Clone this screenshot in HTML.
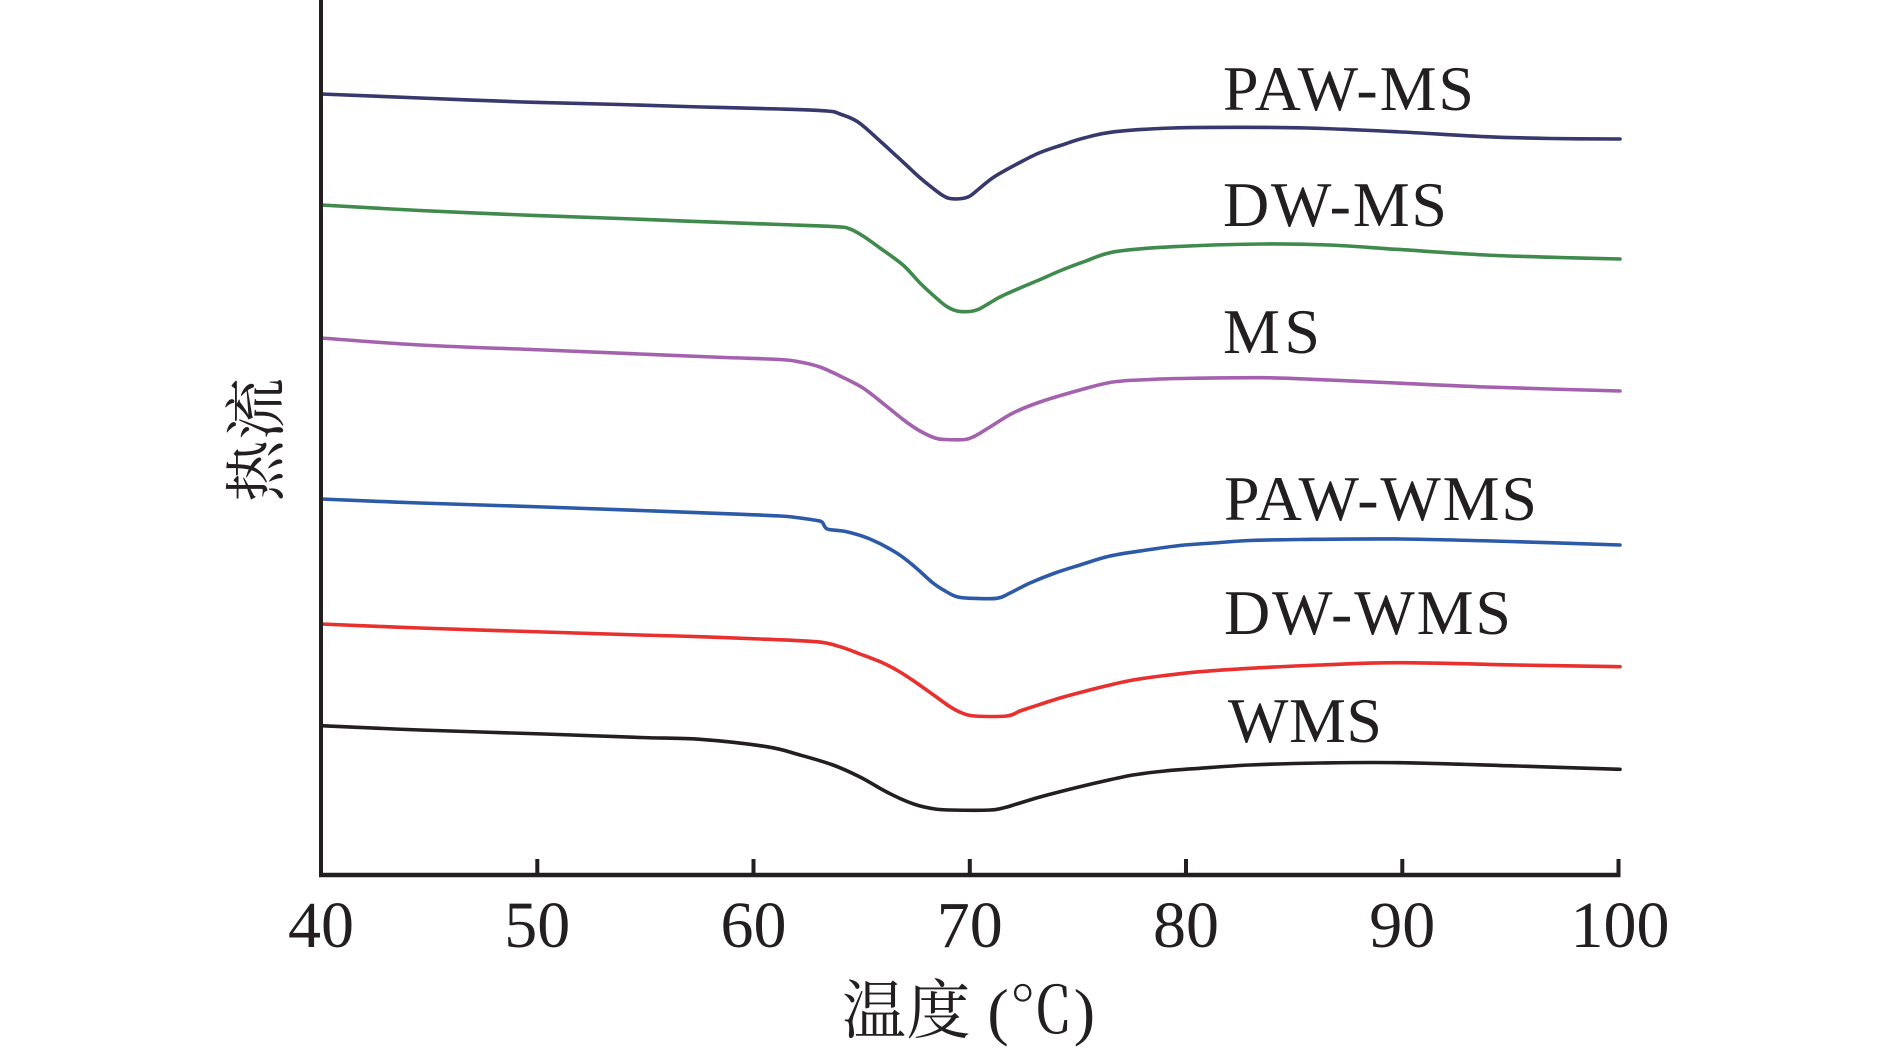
<!DOCTYPE html>
<html>
<head>
<meta charset="utf-8">
<style>
html,body{margin:0;padding:0;background:#fff;}
svg{display:block;}
.lbl{font-family:"Liberation Serif","Noto Serif CJK SC",serif;font-size:64px;fill:#231f20;}
.tick{font-family:"Liberation Serif",serif;font-size:66px;fill:#231f20;}
.cjk{font-family:"Liberation Serif","Noto Serif CJK SC",serif;fill:#231f20;}
.c{fill:none;stroke-width:3.6;stroke-linejoin:round;stroke-linecap:round;}
</style>
</head>
<body>
<svg id="chart" width="1890" height="1050" viewBox="0 0 1890 1050" xmlns="http://www.w3.org/2000/svg">
<rect width="1890" height="1050" fill="#fff"/>

<!-- curves -->
<polyline class="c" stroke="#37386b" points="321,94 420,98 523,102 620,104.5 702,107 780,109 827,111 840,114 858,122 880,141 903,162 918,176 930,186 942,195 950,198.5 962,198.5 970,196 980,188 994,177 1017,164 1039,153 1062,145 1084,138 1115,131.7 1173,128 1240,127.3 1307,128 1396,131.7 1486,136.7 1550,138.5 1620,139"/>

<polyline class="c" stroke="#3f8a4c" points="321,205 420,210.5 523,215 620,218.5 702,221.7 780,224.5 836,226.7 850,229 863,236 880,248 903,265 920,283 934,296 946,306 957,311 970,311.5 978,309.5 988,304 1000,297 1020,288 1039,280 1062,270 1084,261.7 1115,251.7 1173,246.7 1262,244 1329,245 1396,249.3 1486,255 1560,257.5 1620,259"/>

<polyline class="c" stroke="#a462ae" points="321,338 420,345 544,350 640,354 725,357.5 780,359.5 800,362 820,367 840,376 863,388 885,405 905,421 920,431 935,438 945,439.5 965,439.5 975,436 990,427 1013,413 1040,402 1080,390 1113,382 1150,379.5 1180,378.5 1262,377.7 1329,380 1396,383 1486,387 1620,391"/>

<polyline class="c" stroke="#2d5aa7" points="321,499 420,503 544,507 640,510.5 725,513.7 780,516 800,518 817,520.5 822,522 825,527 829,529.5 846.7,531.7 870,539 896.7,553 915,567 933,583 946,591.5 956.7,596.7 970,598.3 996.7,598.3 1010,593 1030,583 1055,573 1080,565 1110,556 1146.7,550 1180,545.5 1213,543 1250,540.5 1300,539.5 1400,539 1517,541.7 1620,545"/>

<polyline class="c" stroke="#e8302e" points="321,624 420,628 544,632 640,635 700,636.7 760,639 816.7,641.7 840,646.7 860,654 883,663 900,672 916.7,683 935,696 950,706.7 962,713 975,716 1006.7,716 1020,711 1033,706.7 1060,698 1083,691.7 1110,685 1133,680 1165,675.5 1200,671.7 1250,668.3 1320,665 1400,662.7 1517,665 1620,666.7"/>

<polyline class="c" stroke="#231f20" points="321,725.7 420,730 544,734 640,737.5 700,739.3 766.7,746.7 800,755 833,765 860,777 883,790 900,798.5 916.7,805 935,809 950,810 990,810 1005,807.5 1016.7,804 1040,797 1066.7,790 1100,782 1133,775 1165,771 1200,768.3 1250,765 1320,763 1400,762.7 1517,766 1620,769.3"/>

<!-- axes -->
<line x1="321" y1="0" x2="321" y2="877" stroke="#231f20" stroke-width="4"/>
<line x1="319" y1="875" x2="1620.5" y2="875" stroke="#231f20" stroke-width="4.5"/>
<g stroke="#231f20" stroke-width="4">
<line x1="537.3" y1="859" x2="537.3" y2="875"/>
<line x1="753.5" y1="859" x2="753.5" y2="875"/>
<line x1="969.8" y1="859" x2="969.8" y2="875"/>
<line x1="1186" y1="859" x2="1186" y2="875"/>
<line x1="1402.3" y1="859" x2="1402.3" y2="875"/>
<line x1="1618.5" y1="859" x2="1618.5" y2="877"/>
</g>

<!-- tick labels -->
<g class="tick" text-anchor="middle">
<text x="321" y="947">40</text>
<text x="537.3" y="947">50</text>
<text x="753.5" y="947">60</text>
<text x="969.8" y="947">70</text>
<text x="1186" y="947">80</text>
<text x="1402.3" y="947">90</text>
<text x="1620" y="947">100</text>
</g>

<!-- series labels -->
<text class="lbl" x="1223" y="110" textLength="251">PAW-MS</text>
<text class="lbl" x="1223" y="226" textLength="224">DW-MS</text>
<text class="lbl" x="1223" y="353" textLength="97">MS</text>
<text class="lbl" x="1224" y="520" textLength="313">PAW-WMS</text>
<text class="lbl" x="1224" y="634" textLength="287">DW-WMS</text>
<text class="lbl" x="1228" y="742" textLength="154">WMS</text>

<!-- axis titles -->
<text class="cjk" x="842" y="1033" font-size="64" textLength="253">温度 (℃)</text>
<text class="cjk" font-size="62" text-anchor="middle" dominant-baseline="central" transform="translate(258,440) rotate(-90)">热流</text>
</svg>
<script>
(function(){
  var ns="http://www.w3.org/2000/svg";
  var pls=document.querySelectorAll("#chart polyline");
  for(var i=0;i<pls.length;i++){
    var pl=pls[i];
    var raw=pl.getAttribute("points").trim().split(/\s+/).map(function(s){var a=s.split(",");return [parseFloat(a[0]),parseFloat(a[1])];});
    var d="M"+raw[0][0]+","+raw[0][1];
    for(var j=0;j<raw.length-1;j++){
      var p0=raw[j>0?j-1:0],p1=raw[j],p2=raw[j+1],p3=raw[j+2<raw.length?j+2:j+1];
      var t=1/6;
      var c1x=p1[0]+(p2[0]-p0[0])*t,c1y=p1[1]+(p2[1]-p0[1])*t;
      var c2x=p2[0]-(p3[0]-p1[0])*t,c2y=p2[1]-(p3[1]-p1[1])*t;
      d+=" C"+c1x.toFixed(2)+","+c1y.toFixed(2)+" "+c2x.toFixed(2)+","+c2y.toFixed(2)+" "+p2[0]+","+p2[1];
    }
    var path=document.createElementNS(ns,"path");
    path.setAttribute("d",d);
    path.setAttribute("class","c");
    path.setAttribute("stroke",pl.getAttribute("stroke"));
    pl.parentNode.replaceChild(path,pl);
  }
})();
</script>
</body>
</html>
